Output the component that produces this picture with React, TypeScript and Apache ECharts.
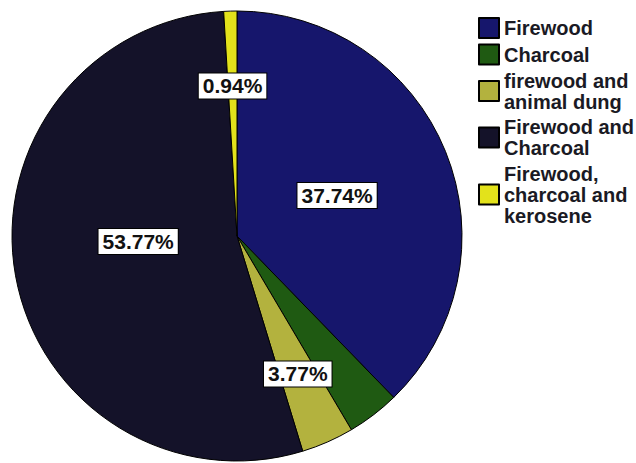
import React, { useEffect, useRef } from "react";
import * as echarts from "echarts";

const categories = [
  "Firewood",
  "Charcoal",
  "firewood and\nanimal dung",
  "Firewood and\nCharcoal",
  "Firewood,\ncharcoal and\nkerosene",
];
const counts = [40, 4, 4, 57, 1];
const showLabel = [true, false, true, true, true];
const colors = ["#16166c", "#1f5a12", "#b3b23e", "#141229", "#e3e21b"];
// label placement: fraction of radius, angle shift (deg) from slice middle
const labelRadius = [0.48, 0.6, 0.67, 0.44, 0.667];
const labelShift = [0, 0, 0, 7, 0];

const CX = 237;
const CY = 236;
const R = 225;

export default function App() {
  const ref = useRef<HTMLDivElement>(null);
  useEffect(() => {
    if (!ref.current) return;
    const chart = echarts.init(ref.current, null, { renderer: "svg" });
    const total = counts.reduce((a, b) => a + b, 0);
    const mids: number[] = [];
    let acc = 0;
    counts.forEach((c) => {
      const a0 = (acc / total) * 360;
      acc += c;
      const a1 = (acc / total) * 360;
      mids.push((a0 + a1) / 2);
    });
    chart.setOption({
      animation: false,
      backgroundColor: "#ffffff",
      legend: {
        orient: "vertical",
        left: 478,
        top: 17,
        padding: 0,
        itemWidth: 20,
        itemHeight: 20,
        itemGap: 4.5,
        icon: "rect",
        selectedMode: false,
        itemStyle: { borderColor: "#000", borderWidth: 2 },
        textStyle: {
          fontFamily: "Liberation Sans",
          fontSize: 20,
          fontWeight: "bold",
          lineHeight: 21,
          color: "#1a1a24",
        },
        data: categories,
      },
      series: [
        {
          type: "pie",
          center: [CX, CY],
          radius: R,
          startAngle: 90,
          clockwise: true,
          silent: true,
          emphasis: { disabled: true },
          itemStyle: { borderColor: "#000", borderWidth: 1 },
          label: {
            show: true,
            position: "inside",
            formatter: (p: any) => ((p.value / total) * 100).toFixed(2) + "%",
            fontFamily: "Liberation Sans",
            fontSize: 21,
            fontWeight: "bold",
            color: "#111",
            backgroundColor: "#fff",
            borderColor: "#000",
            borderWidth: 1,
            padding: [2, 4],
            lineHeight: 21,
          },
          labelLine: { show: false },
          labelLayout: (params: any) => {
            const i = params.dataIndex;
            const a = ((mids[i] + labelShift[i]) * Math.PI) / 180;
            const r = labelRadius[i] * R;
            return {
              x: CX + r * Math.sin(a),
              y: CY - r * Math.cos(a),
              align: "center",
              verticalAlign: "middle",
            };
          },
          data: categories.map((name, i) => ({
            name,
            value: counts[i],
            itemStyle: { color: colors[i] },
            label: { show: showLabel[i] },
          })),
        },
      ],
    });
    return () => chart.dispose();
  }, []);
  return (
    <div
      ref={ref}
      style={{ position: "fixed", left: 0, top: 0, width: 636, height: 463 }}
    />
  );
}
